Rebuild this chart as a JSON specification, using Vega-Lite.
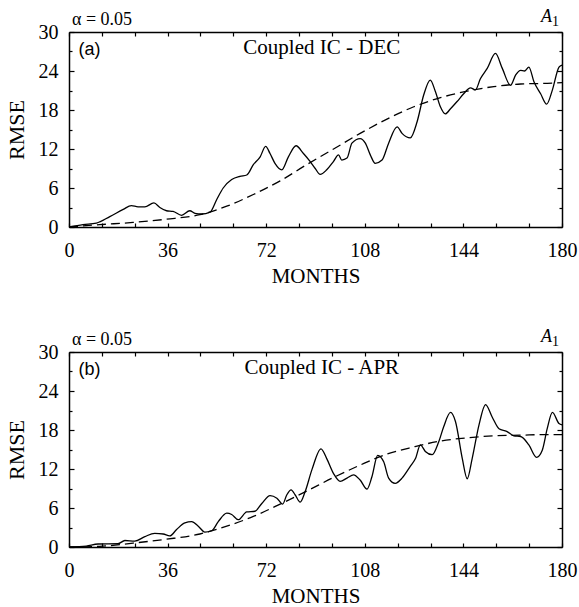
{
  "$schema": "https://vega.github.io/schema/vega-lite/v6.json",
  "padding": {"left": 5, "top": 8, "right": 10, "bottom": 5},
  "background": "white",
  "datasets": {
    "a_obs": [
      {"month":0,"rmse":0},{"month":5.1,"rmse":0.36},{"month":10,"rmse":0.6},{"month":14.9,"rmse":1.6},{"month":19.8,"rmse":2.7},{"month":22.8,"rmse":3.3},{"month":25.2,"rmse":3.1},{"month":27.7,"rmse":3.1},{"month":31,"rmse":3.7},{"month":33.2,"rmse":3.0},{"month":35.6,"rmse":2.5},{"month":38,"rmse":2.4},{"month":41.1,"rmse":1.8},{"month":44.1,"rmse":2.5},{"month":46,"rmse":2.1},{"month":48.4,"rmse":2.0},{"month":51.5,"rmse":2.3},{"month":53.9,"rmse":4.2},{"month":56.3,"rmse":6.0},{"month":59.4,"rmse":7.3},{"month":62.4,"rmse":7.8},{"month":64.9,"rmse":8.0},{"month":67.3,"rmse":9.6},{"month":69.8,"rmse":10.8},{"month":71.8,"rmse":12.4},{"month":73.4,"rmse":11.3},{"month":75.2,"rmse":9.8},{"month":77.7,"rmse":8.8},{"month":80.1,"rmse":10.8},{"month":82.9,"rmse":12.5},{"month":85.6,"rmse":11.3},{"month":88,"rmse":10.1},{"month":89.9,"rmse":9.0},{"month":91.7,"rmse":8.1},{"month":94.1,"rmse":8.8},{"month":96.6,"rmse":10.1},{"month":98.4,"rmse":11.1},{"month":99.6,"rmse":10.3},{"month":101.5,"rmse":10.6},{"month":103.3,"rmse":12.9},{"month":106.3,"rmse":13.6},{"month":108.2,"rmse":12.9},{"month":110,"rmse":11.1},{"month":111.8,"rmse":9.8},{"month":114.3,"rmse":10.3},{"month":116.7,"rmse":12.9},{"month":119.8,"rmse":15.4},{"month":121.6,"rmse":14.4},{"month":124.6,"rmse":13.7},{"month":127.1,"rmse":16.2},{"month":129.5,"rmse":20.3},{"month":131.9,"rmse":22.6},{"month":133.8,"rmse":20.8},{"month":135.6,"rmse":18.5},{"month":137.4,"rmse":17.4},{"month":139.3,"rmse":18.2},{"month":141.7,"rmse":19.3},{"month":144.1,"rmse":20.5},{"month":146.6,"rmse":21.4},{"month":148.4,"rmse":21.1},{"month":150.2,"rmse":22.8},{"month":152.7,"rmse":24.4},{"month":155.7,"rmse":26.7},{"month":158.2,"rmse":24.4},{"month":161.2,"rmse":21.8},{"month":163.1,"rmse":23.4},{"month":164.9,"rmse":24.1},{"month":166.3,"rmse":24.0},{"month":167.9,"rmse":24.6},{"month":169.8,"rmse":22.3},{"month":172.2,"rmse":20.5},{"month":174.4,"rmse":18.9},{"month":176.5,"rmse":21.1},{"month":178.9,"rmse":24.6},{"month":180,"rmse":24.9}
    ],
    "a_fit": [
      {"month":0,"rmse":0},{"month":11.2,"rmse":0.36},{"month":23.4,"rmse":0.7},{"month":35.6,"rmse":1.2},{"month":47.8,"rmse":1.9},{"month":57.6,"rmse":3.2},{"month":67.3,"rmse":5.0},{"month":77.1,"rmse":7.1},{"month":86.8,"rmse":9.6},{"month":96.6,"rmse":12.0},{"month":106.3,"rmse":14.4},{"month":116.1,"rmse":16.6},{"month":125.9,"rmse":18.5},{"month":135.6,"rmse":19.9},{"month":145.4,"rmse":20.9},{"month":155.1,"rmse":21.6},{"month":164.9,"rmse":22.0},{"month":174.6,"rmse":22.1},{"month":180,"rmse":22.2}
    ],
    "b_obs": [
      {"month":0,"rmse":0},{"month":6.3,"rmse":0.15},{"month":10.6,"rmse":0.46},{"month":17.9,"rmse":0.5},{"month":20.4,"rmse":1.0},{"month":24,"rmse":0.9},{"month":27.7,"rmse":1.6},{"month":31.3,"rmse":2.1},{"month":34.4,"rmse":2.0},{"month":36.8,"rmse":1.7},{"month":39.3,"rmse":2.7},{"month":42.3,"rmse":3.7},{"month":44.8,"rmse":3.9},{"month":47.2,"rmse":3.2},{"month":49.6,"rmse":2.3},{"month":52.1,"rmse":2.5},{"month":54.5,"rmse":3.9},{"month":57.6,"rmse":5.2},{"month":59.4,"rmse":5.0},{"month":61.8,"rmse":4.2},{"month":64.9,"rmse":5.4},{"month":67.9,"rmse":5.5},{"month":70.4,"rmse":6.7},{"month":73.4,"rmse":7.9},{"month":75.9,"rmse":7.5},{"month":78.0,"rmse":6.6},{"month":79.5,"rmse":8.0},{"month":81.1,"rmse":8.8},{"month":82.6,"rmse":8.0},{"month":84.4,"rmse":6.9},{"month":86.2,"rmse":8.5},{"month":88.7,"rmse":11.9},{"month":92,"rmse":15.1},{"month":94.1,"rmse":13.6},{"month":96.6,"rmse":11.3},{"month":99.0,"rmse":10.1},{"month":101.5,"rmse":10.6},{"month":103.9,"rmse":11.1},{"month":106.3,"rmse":10.3},{"month":108.8,"rmse":8.9},{"month":110.6,"rmse":10.8},{"month":112.7,"rmse":14.1},{"month":114.9,"rmse":13.1},{"month":116.7,"rmse":10.6},{"month":119.1,"rmse":9.8},{"month":121.6,"rmse":10.6},{"month":124.6,"rmse":12.4},{"month":126.5,"rmse":13.6},{"month":128.3,"rmse":15.7},{"month":130.1,"rmse":14.7},{"month":132.6,"rmse":14.2},{"month":135,"rmse":16.2},{"month":136.8,"rmse":18.5},{"month":139.3,"rmse":20.7},{"month":141.1,"rmse":19.3},{"month":143.6,"rmse":13.6},{"month":145.4,"rmse":10.5},{"month":147.2,"rmse":13.6},{"month":149.7,"rmse":18.8},{"month":152.1,"rmse":21.9},{"month":154.5,"rmse":20.0},{"month":157,"rmse":18.2},{"month":159.8,"rmse":17.8},{"month":162.4,"rmse":17.1},{"month":164.9,"rmse":17.0},{"month":167.9,"rmse":15.7},{"month":170.7,"rmse":13.8},{"month":172.8,"rmse":14.9},{"month":174.6,"rmse":18.2},{"month":176.5,"rmse":20.7},{"month":178.9,"rmse":19.0},{"month":180,"rmse":18.8}
    ],
    "b_fit": [
      {"month":0,"rmse":0},{"month":11.2,"rmse":0.1},{"month":23.4,"rmse":0.6},{"month":35.6,"rmse":1.2},{"month":47.8,"rmse":2.0},{"month":57.6,"rmse":3.2},{"month":67.3,"rmse":4.7},{"month":77.1,"rmse":6.6},{"month":86.8,"rmse":8.6},{"month":96.6,"rmse":10.7},{"month":106.3,"rmse":12.6},{"month":116.1,"rmse":14.3},{"month":125.9,"rmse":15.4},{"month":135.6,"rmse":16.3},{"month":145.4,"rmse":16.8},{"month":155.1,"rmse":17.1},{"month":164.9,"rmse":17.2},{"month":174.6,"rmse":17.3},{"month":180,"rmse":17.3}
    ],
    "one": [{}]
  },
  "vconcat": [
    {
      "width": 493,
      "height": 195,
      "resolve": {"axis": {"x": "independent", "y": "independent"}},
      "layer": [
        {
          "data": {"name": "a_obs"},
          "mark": {"type": "line", "color": "black", "strokeWidth": 1.3, "interpolate": "monotone"},
          "encoding": {
            "x": {"field": "month", "type": "quantitative", "scale": {"domain": [0, 180], "nice": false},
              "axis": {"orient": "bottom", "values": [0,12,24,36,48,60,72,84,96,108,120,132,144,156,168,180], "labelExpr": "datum.value % 36 == 0 ? datum.label : ''", "tickSize": -4, "labelPadding": 17, "labelFontSize": 20, "title": "MONTHS", "titleFontSize": 21, "titlePadding": 5}},
            "y": {"field": "rmse", "type": "quantitative", "scale": {"domain": [0, 30], "nice": false},
              "axis": {"orient": "left", "values": [0,3,6,9,12,15,18,21,24,27,30], "labelExpr": "datum.value % 6 == 0 ? datum.label : ''", "tickSize": {"condition": {"test": "datum.value % 6 == 0", "value": -5}, "value": -3}, "labelPadding": 16, "labelFontSize": 20, "title": "RMSE", "titleFontSize": 22, "titlePadding": 10}}
          }
        },
        {
          "data": {"name": "a_fit"},
          "mark": {"type": "line", "color": "black", "strokeWidth": 1.3, "strokeDash": [9, 5], "interpolate": "monotone"},
          "encoding": {
            "x": {"field": "month", "type": "quantitative", "scale": {"domain": [0, 180], "nice": false},
              "axis": {"orient": "top", "values": [0,12,24,36,48,60,72,84,96,108,120,132,144,156,168,180], "labels": false, "tickSize": -4, "title": null}},
            "y": {"field": "rmse", "type": "quantitative", "scale": {"domain": [0, 30], "nice": false},
              "axis": {"orient": "right", "values": [0,3,6,9,12,15,18,21,24,27,30], "labels": false, "tickSize": {"condition": {"test": "datum.value % 6 == 0", "value": -5}, "value": -3}, "title": null}}
          }
        },
        {
          "data": {"name": "one"},
          "mark": {"type": "text", "font": "Liberation Sans", "fontSize": 18, "align": "left", "baseline": "middle"},
          "encoding": {"x": {"datum": 3.5, "type": "quantitative", "axis": null}, "y": {"datum": 27.3, "type": "quantitative", "axis": null}, "text": {"value": "(a)"}}
        },
        {
          "data": {"name": "one"},
          "mark": {"type": "text", "font": "Liberation Serif", "fontSize": 21, "align": "center", "baseline": "middle"},
          "encoding": {"x": {"datum": 92.3, "type": "quantitative", "axis": null}, "y": {"datum": 27.6, "type": "quantitative", "axis": null}, "text": {"value": "Coupled IC - DEC"}}
        },
        {
          "data": {"name": "one"},
          "mark": {"type": "text", "font": "Liberation Serif", "fontSize": 18, "align": "left", "baseline": "alphabetic", "dx": 3, "dy": -7},
          "encoding": {"x": {"datum": 0, "type": "quantitative", "axis": null}, "y": {"datum": 30, "type": "quantitative", "axis": null}, "text": {"value": "α = 0.05"}}
        },
        {
          "data": {"name": "one"},
          "mark": {"type": "text", "font": "Liberation Serif", "fontSize": 18, "fontStyle": "italic", "align": "right", "baseline": "alphabetic", "dx": -10, "dy": -10},
          "encoding": {"x": {"datum": 180, "type": "quantitative", "axis": null}, "y": {"datum": 30, "type": "quantitative", "axis": null}, "text": {"value": "A"}}
        },
        {
          "data": {"name": "one"},
          "mark": {"type": "text", "font": "Liberation Serif", "fontSize": 14, "align": "right", "baseline": "alphabetic", "dx": -3, "dy": -6},
          "encoding": {"x": {"datum": 180, "type": "quantitative", "axis": null}, "y": {"datum": 30, "type": "quantitative", "axis": null}, "text": {"value": "1"}}
        }
      ]
    },
    {
      "width": 493,
      "height": 195,
      "resolve": {"axis": {"x": "independent", "y": "independent"}},
      "layer": [
        {
          "data": {"name": "b_obs"},
          "mark": {"type": "line", "color": "black", "strokeWidth": 1.3, "interpolate": "monotone"},
          "encoding": {
            "x": {"field": "month", "type": "quantitative", "scale": {"domain": [0, 180], "nice": false},
              "axis": {"orient": "bottom", "values": [0,12,24,36,48,60,72,84,96,108,120,132,144,156,168,180], "labelExpr": "datum.value % 36 == 0 ? datum.label : ''", "tickSize": -4, "labelPadding": 17, "labelFontSize": 20, "title": "MONTHS", "titleFontSize": 21, "titlePadding": 5}},
            "y": {"field": "rmse", "type": "quantitative", "scale": {"domain": [0, 30], "nice": false},
              "axis": {"orient": "left", "values": [0,3,6,9,12,15,18,21,24,27,30], "labelExpr": "datum.value % 6 == 0 ? datum.label : ''", "tickSize": {"condition": {"test": "datum.value % 6 == 0", "value": -5}, "value": -3}, "labelPadding": 16, "labelFontSize": 20, "title": "RMSE", "titleFontSize": 22, "titlePadding": 10}}
          }
        },
        {
          "data": {"name": "b_fit"},
          "mark": {"type": "line", "color": "black", "strokeWidth": 1.3, "strokeDash": [9, 5], "interpolate": "monotone"},
          "encoding": {
            "x": {"field": "month", "type": "quantitative", "scale": {"domain": [0, 180], "nice": false},
              "axis": {"orient": "top", "values": [0,12,24,36,48,60,72,84,96,108,120,132,144,156,168,180], "labels": false, "tickSize": -4, "title": null}},
            "y": {"field": "rmse", "type": "quantitative", "scale": {"domain": [0, 30], "nice": false},
              "axis": {"orient": "right", "values": [0,3,6,9,12,15,18,21,24,27,30], "labels": false, "tickSize": {"condition": {"test": "datum.value % 6 == 0", "value": -5}, "value": -3}, "title": null}}
          }
        },
        {
          "data": {"name": "one"},
          "mark": {"type": "text", "font": "Liberation Sans", "fontSize": 18, "align": "left", "baseline": "middle"},
          "encoding": {"x": {"datum": 3.5, "type": "quantitative", "axis": null}, "y": {"datum": 27.3, "type": "quantitative", "axis": null}, "text": {"value": "(b)"}}
        },
        {
          "data": {"name": "one"},
          "mark": {"type": "text", "font": "Liberation Serif", "fontSize": 21, "align": "center", "baseline": "middle"},
          "encoding": {"x": {"datum": 92.3, "type": "quantitative", "axis": null}, "y": {"datum": 27.6, "type": "quantitative", "axis": null}, "text": {"value": "Coupled IC - APR"}}
        },
        {
          "data": {"name": "one"},
          "mark": {"type": "text", "font": "Liberation Serif", "fontSize": 18, "align": "left", "baseline": "alphabetic", "dx": 3, "dy": -7},
          "encoding": {"x": {"datum": 0, "type": "quantitative", "axis": null}, "y": {"datum": 30, "type": "quantitative", "axis": null}, "text": {"value": "α = 0.05"}}
        },
        {
          "data": {"name": "one"},
          "mark": {"type": "text", "font": "Liberation Serif", "fontSize": 18, "fontStyle": "italic", "align": "right", "baseline": "alphabetic", "dx": -10, "dy": -10},
          "encoding": {"x": {"datum": 180, "type": "quantitative", "axis": null}, "y": {"datum": 30, "type": "quantitative", "axis": null}, "text": {"value": "A"}}
        },
        {
          "data": {"name": "one"},
          "mark": {"type": "text", "font": "Liberation Serif", "fontSize": 14, "align": "right", "baseline": "alphabetic", "dx": -3, "dy": -6},
          "encoding": {"x": {"datum": 180, "type": "quantitative", "axis": null}, "y": {"datum": 30, "type": "quantitative", "axis": null}, "text": {"value": "1"}}
        }
      ]
    }
  ],
  "spacing": 125,
  "bounds": "flush",
  "config": {
    "view": {"stroke": null},
    "axis": {"domainColor": "black", "domainWidth": 1.5, "tickColor": "black", "tickWidth": 1.2, "labelColor": "black", "titleColor": "black", "labelFont": "Liberation Serif", "titleFont": "Liberation Serif", "titleFontWeight": "normal", "grid": false, "labelFlush": false, "labelOverlap": false}
  }
}
